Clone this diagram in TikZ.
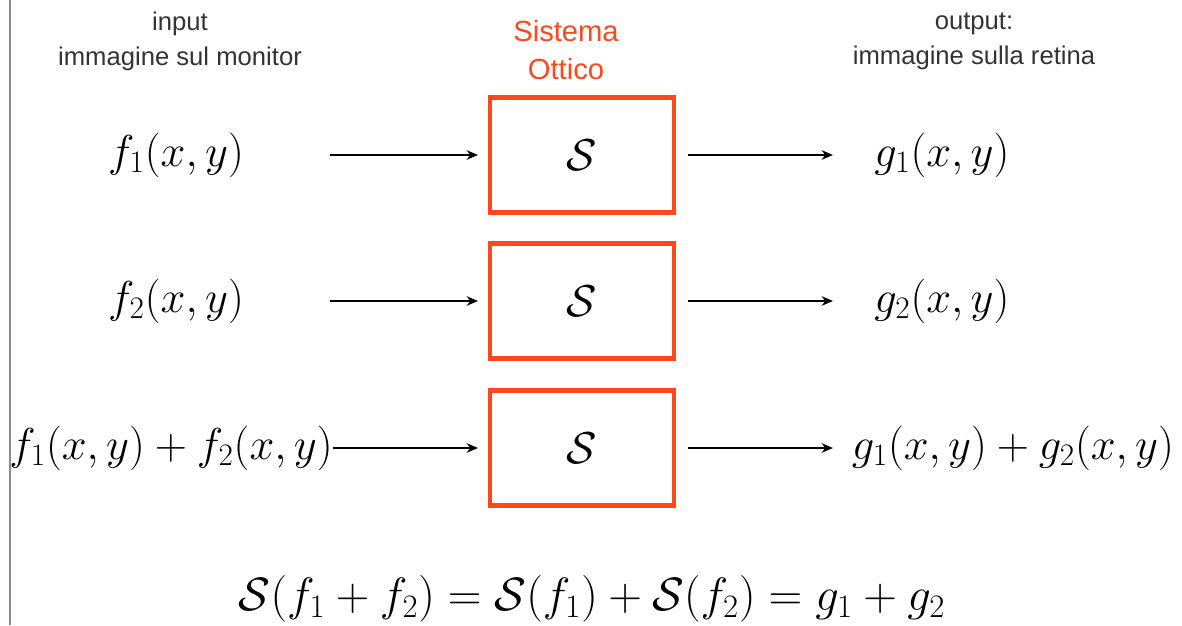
\RequirePackage{fix-cm}
\documentclass[tikz,border=0pt]{standalone}
\usepackage[no-math]{fontspec}
\setmainfont{Liberation Sans}
\usetikzlibrary{arrows.meta}
\definecolor{sysred}{RGB}{252,72,28}

\begin{document}
\begin{tikzpicture}[x=0.02cm, y=-0.02cm,
    sys/.style={draw=sysred, line width=2.3pt, minimum width=3.68cm, minimum height=2.3cm, inner sep=0pt},
    fn/.style={font=\fontsize{25.4}{30}\selectfont},
    lbl/.style={align=center, font=\fontsize{14.6}{20}\selectfont, text=black!80},
    arr/.style={-{Stealth[length=6.5pt, width=5.5pt]}, line width=0.8pt}]
    \useasboundingbox (0,0) rectangle (1182,625);
    \draw[black!45, line width=0.7pt] (10,0) -- (10,625);

    \node[lbl] (lin) at (180,41) {input\\immagine sul monitor};
    \node[lbl, text=sysred, font=\fontsize{16.6}{21.6}\selectfont] (lsys) at (566,50) {Sistema\\Ottico};
    \node[lbl] (lout) at (974,41) {output:\\immagine sulla retina};

    \node[sys, fn] (s1) at (582,155) {$\mathcal{S}$};
    \node[sys, fn] (s2) at (582,301) {$\mathcal{S}$};
    \node[sys, fn] (s3) at (582,448) {$\mathcal{S}$};

    \node[fn] (f1) at (176,155) {$f_1(x,y)$};
    \node[fn] (f2) at (176,301) {$f_2(x,y)$};
    \node[fn] (f12) at (171,448) {$f_1(x,y)+f_2(x,y)$};

    \node[fn] (g1) at (942,155) {$g_1(x,y)$};
    \node[fn] (g2) at (942,301) {$g_2(x,y)$};
    \node[fn] (g12) at (1013,448) {$g_1(x,y)+g_2(x,y)$};

    \coordinate (a1) at (330,155);
    \coordinate (a2) at (330,301);
    \coordinate (a3) at (333,448);
    \coordinate (b1) at (833,155);
    \coordinate (b2) at (833,301);
    \coordinate (b3) at (833,448);

    \draw[arr, shorten >=5.7pt] (a1) -- (s1);
    \draw[arr, shorten >=5.7pt] (a2) -- (s2);
    \draw[arr, shorten >=5.7pt] (a3) -- (s3);
    \draw[arr, shorten <=6.8pt] (s1) -- (b1);
    \draw[arr, shorten <=6.8pt] (s2) -- (b2);
    \draw[arr, shorten <=6.8pt] (s3) -- (b3);

    \node[fn, font=\fontsize{26.6}{31}\selectfont] (eq) at (592,599) {$\mathcal{S}(f_1+f_2)=\mathcal{S}(f_1)+\mathcal{S}(f_2)=g_1+g_2$};
\end{tikzpicture}
\end{document}
